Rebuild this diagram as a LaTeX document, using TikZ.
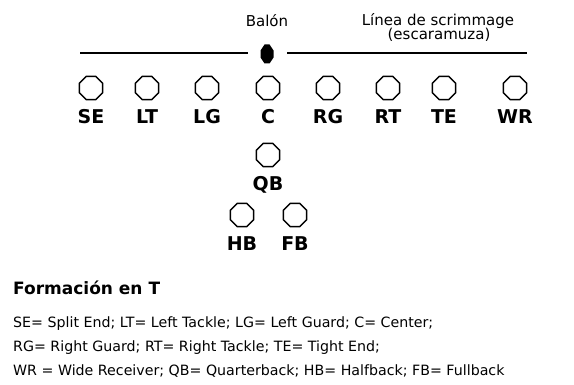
\documentclass[tikz,border=0pt]{standalone}
\usepackage{fontspec}
\setmainfont{DejaVu Sans}
\usetikzlibrary{positioning,shapes.geometric}

\begin{document}
\begin{tikzpicture}[
            x=1pt, y=-1pt,
            player/.style={regular polygon, regular polygon sides=8,
                           draw=black, line width=1.5pt, minimum size=25pt,
                           inner sep=0pt},
            poslabel/.style={font=\fontsize{19}{19}\selectfont\bfseries, inner sep=0pt,
                             text height=14pt, text depth=4pt},
            note/.style={font=\fontsize{15}{15}\selectfont, inner sep=0pt, anchor=base},
            legend/.style={font=\fontsize{14.2}{14.2}\selectfont, inner sep=0pt, anchor=base west},
            scrim/.style={line width=1.3pt}
        ]
            \useasboundingbox (0,0) rectangle (574,385);

            % line of scrimmage and the ball
            \coordinate (ball) at (267,54);
            \fill (ball) ++(-2.5,-9.5) -- ++(5,0) -- ++(4,6) -- ++(0,7)
                -- ++(-4,6) -- ++(-5,0) -- ++(-4,-6) -- ++(0,-7) -- cycle;
            \coordinate (losL) at (80,53);
            \coordinate (losR) at (527,53);
            \draw[scrim] (losL) -- ([xshift=-19pt]ball |- losL);
            \draw[scrim] ([xshift=20pt]ball |- losR) -- (losR);
            \node[note] (balon) at (267,27) {Balón};
            \node[note] (linea) at (438,26) {Línea de scrimmage};
            \node[note] (escara) at (439,40) {(escaramuza)};

            % offensive line
            \foreach \x/\p in {91/SE, 147/LT, 207/LG, 268/C, 328/RG, 388/RT, 444/TE, 515/WR} {
                \node[player] (\p) at (\x,88) {};
                \node[poslabel, below=9.5pt of \p] {\p};
            }

            % backfield
            \node[player] (QB) at (268,155) {};
            \node[poslabel, below=9pt of QB] {QB};
            \node[player] (HB) at (242,215) {};
            \node[poslabel, below=9pt of HB] {HB};
            \node[player] (FB) at (295,215) {};
            \node[poslabel, below=9pt of FB] {FB};

            % legend
            \node[font=\fontsize{17}{17}\selectfont\bfseries, inner sep=0pt, anchor=base west]
                (title) at (13,295) {Formación en T};
            \node[legend] (key1) at (13,328) {SE= Split End; LT= Left Tackle; LG= Left Guard; C= Center;};
            \node[legend] (key2) at (13,352) {RG= Right Guard; RT= Right Tackle; TE= Tight End;};
            \node[legend] (key3) at (13,375) {WR = Wide Receiver; QB= Quarterback; HB= Halfback; FB= Fullback};
        \end{tikzpicture}
\end{document}
